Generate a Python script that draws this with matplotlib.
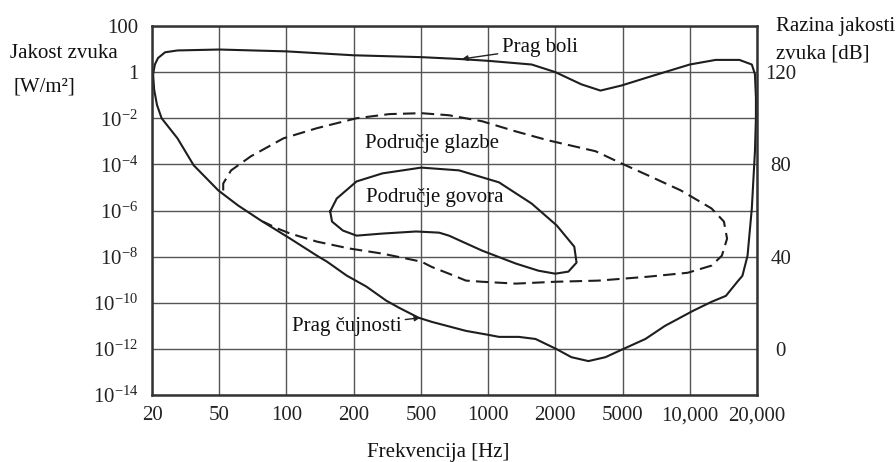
import numpy as np
import matplotlib.pyplot as plt
from matplotlib.ticker import NullLocator

plt.rcParams['font.family'] = ['Liberation Serif', 'DejaVu Serif']
plt.rcParams['mathtext.fontset'] = 'custom'
plt.rcParams['mathtext.rm'] = 'Liberation Serif'
plt.rcParams['mathtext.it'] = 'Liberation Serif:italic'

# axis ticks
freq_ticks = [20, 50, 100, 200, 500, 1000, 2000, 5000, 10000, 20000]
freq_labels = ['20', '50', '100', '200', '500', '1000', '2000', '5000', '10,000', '20,000']
intensity_ticks = [1e-14, 1e-12, 1e-10, 1e-8, 1e-6, 1e-4, 1e-2, 1, 100]
intensity_labels = ['$10^{-14}$', '$10^{-12}$', '$10^{-10}$', '$10^{-8}$', '$10^{-6}$',
                    '$10^{-4}$', '$10^{-2}$', '1', '100']
db_ticks = [0, 40, 80, 120]

# hearing area: pain threshold on top, hearing threshold at the bottom (closed loop), freq in Hz, level in dB
area_freq = [20.3, 20.8, 21.7, 23.9, 28.3, 50, 100, 200, 500, 741, 1000, 1567, 2000, 2853, 3700, 4930,
             6510, 10000, 13060, 16680, 18960, 19580, 19780, 19780, 19580, 18960, 18140, 17210, 16330,
             14520, 12510, 10340, 7750, 6330, 5050, 3960, 3140, 2490, 2020, 1630, 1371, 1119, 1000, 796,
             560, 485, 372, 312, 238, 186, 152, 137, 104, 76.7, 60.7, 49.4, 35.3, 28.3, 22.8, 21.4, 20.6, 20.3]
area_db = [119.1, 123.3, 126.1, 128.6, 129.4, 129.8, 129.0, 127.3, 126.5, 125.7, 124.9, 123.3, 120.0, 114.7,
           112.0, 114.2, 117.8, 123.3, 125.3, 125.3, 123.3, 119.1, 108.9, 100.0, 85.7, 60.9, 40.4, 31.7, 29.1,
           23.0, 20.4, 16.5, 10.0, 4.3, 0.0, -3.6, -5.3, -3.6, 0.0, 4.3, 5.2, 5.2, 6.1, 7.8, 11.7, 13.5, 17.8,
           20.9, 27.0, 31.8, 37.8, 40.4, 47.8, 55.7, 62.2, 68.7, 79.6, 91.3, 100.0, 105.8, 112.4, 119.1]

# music region (dashed)
music_freq = [52.1, 52.1, 56.5, 69.3, 97, 137, 208, 325, 502, 668, 940, 1330, 1862, 3460, 4930, 6510, 9120,
              12510, 14220, 14690, 13920, 12510, 9790, 6510, 3600, 2000, 1330, 940, 796, 668, 560, 503, 296,
              192, 137, 104, 91.2, 78.4]
music_db = [68.7, 71.7, 77.4, 83.5, 91.3, 95.7, 100.0, 101.8, 102.2, 101.3, 98.7, 94.3, 90.4, 85.7, 80.4,
            75.2, 68.7, 60.9, 55.2, 47.8, 40.4, 36.1, 33.0, 31.3, 29.6, 29.1, 28.3, 29.1, 29.6, 32.6, 35.5,
            37.8, 41.3, 43.5, 46.5, 50.0, 52.2, 55.2]

# speech region
speech_freq = [157, 168, 208, 296, 502, 741, 1119, 1567, 2040, 2590, 2670, 2390, 2000, 1680, 1330, 940, 668,
               603, 468, 296, 208, 179, 160, 157]
speech_db = [59.6, 65.2, 72.6, 76.1, 78.6, 77.4, 72.2, 63.0, 53.5, 44.3, 37.4, 33.5, 32.6, 33.9, 37.0, 42.6,
             49.1, 50.4, 50.9, 50.0, 49.1, 51.3, 55.2, 59.6]

log_ticks = np.log10(freq_ticks)
idx = np.arange(len(freq_ticks))


def fwd(f):
    return np.interp(np.log10(np.clip(f, 1e-9, None)), log_ticks, idx)


def inv(g):
    return 10 ** np.interp(g, idx, log_ticks)


def db_to_w(d):
    return 1e-12 * 10 ** (np.asarray(d, dtype=float) / 10)


fig = plt.figure(figsize=(8.96, 4.62), dpi=100)
ax = fig.add_axes([152 / 896, 67 / 462, 605 / 896, 369 / 462])

ax.set_xscale('function', functions=(fwd, inv))
ax.set_yscale('log')
ax.set_xlim(20, 20000)
ax.set_ylim(1e-14, 1e2)

ink = '#1e1e1e'
ax.plot(area_freq, db_to_w(area_db), color=ink, lw=1.5, solid_joinstyle='round')
ax.plot(speech_freq, db_to_w(speech_db), color=ink, lw=1.5, solid_joinstyle='round')
ax.plot(music_freq, db_to_w(music_db), color=ink, lw=1.5, linestyle=(0, (6, 3)))

ax.set_xticks(freq_ticks, freq_labels)
ax.set_yticks(intensity_ticks, intensity_labels)
ax.xaxis.set_minor_locator(NullLocator())
ax.yaxis.set_minor_locator(NullLocator())
ax.tick_params(axis='x', length=0, pad=8, labelsize=15, colors='#222')
ax.tick_params(axis='y', length=0, pad=10, labelsize=15, colors='#222')
ax.grid(True, color='#555', lw=1.0)
ax.set_axisbelow(True)
for s in ax.spines.values():
    s.set_linewidth(1.8)
    s.set_color('#333')

# right axis in dB (0 dB = 1e-12 W/m2)
rax = ax.twinx()
rax.set_yscale('log')
rax.set_ylim(ax.get_ylim())
rax.set_yticks(db_to_w(db_ticks), [str(d) for d in db_ticks])
rax.yaxis.set_minor_locator(NullLocator())
rax.tick_params(length=0, pad=17, labelsize=15, colors='#222')
for t in rax.get_yticklabels():
    t.set_ha('center')
for s in rax.spines.values():
    s.set_visible(False)

# curve labels
ax.annotate('Prag boli', xy=(764, db_to_w(125.7)), xytext=(1153, db_to_w(130.6)),
            ha='left', va='center', fontsize=15, color='#111',
            arrowprops=dict(arrowstyle='-|>', color='#222', lw=1, mutation_scale=8, shrinkA=1, shrinkB=0))
ax.annotate('Prag čujnosti', xy=(495, db_to_w(13.5)), xytext=(382, db_to_w(9.6)),
            ha='right', va='center', fontsize=15, color='#111',
            arrowprops=dict(arrowstyle='-|>', color='#222', lw=1, mutation_scale=8, shrinkA=1, shrinkB=0))
ax.text(232, db_to_w(89.1), 'Područje glazbe', ha='left', va='center', fontsize=15, color='#111')
ax.text(236, db_to_w(65.5), 'Područje govora', ha='left', va='center', fontsize=15, color='#111')

# axis titles
fig.text(10 / 896, 1 - 54 / 462, 'Jakost zvuka', ha='left', va='center', fontsize=15, color='#111')
fig.text(13 / 896, 1 - 87 / 462, '[W/m²]', ha='left', va='center', fontsize=15, color='#111')
fig.text(776 / 896, 1 - 27 / 462, 'Razina jakosti', ha='left', va='center', fontsize=15, color='#111')
fig.text(776 / 896, 1 - 54 / 462, 'zvuka [dB]', ha='left', va='center', fontsize=15, color='#111')
fig.text(438 / 896, 1 - 452 / 462, 'Frekvencija [Hz]', ha='center', va='center', fontsize=15, color='#111')

plt.savefig('out.png', dpi=100)
